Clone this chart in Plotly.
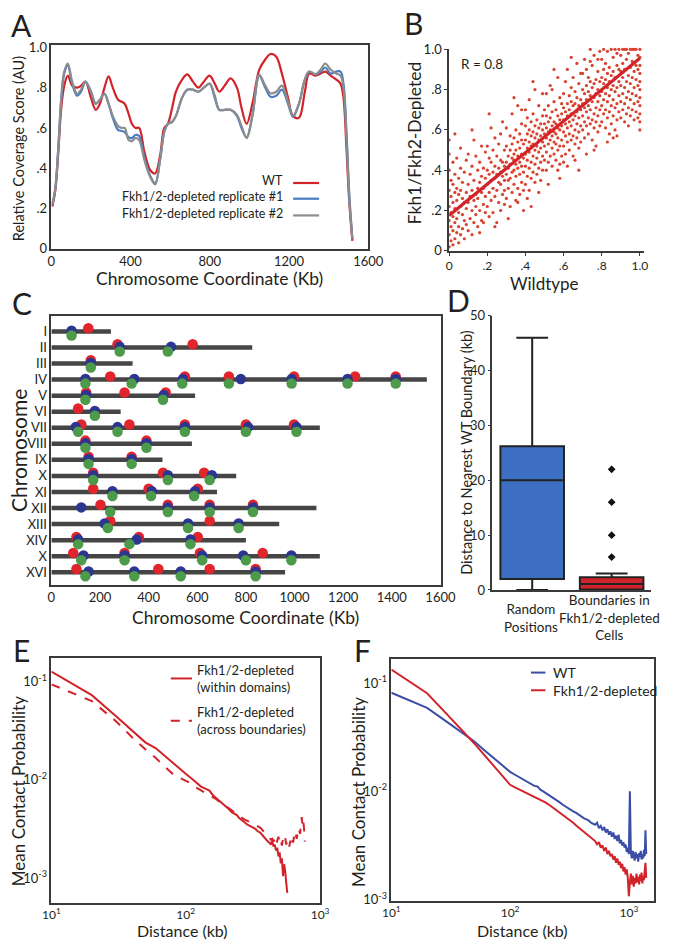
import plotly.graph_objects as go

W, H = 677, 946
FONT = "Lato, 'Open Sans', sans-serif"
INK = "#231f20"
AXC = "#3a3a3a"

# ---------------- Panel A: coverage score along chromosome ----------------
a_kb = [5, 20, 35, 50, 65, 83, 105, 130, 150, 172, 200, 224, 245, 268, 289, 310, 337, 355, 370, 390,
        407, 425, 443, 470, 500, 524, 550, 570, 588, 610, 629, 660, 686, 715, 742, 770, 799, 825, 848, 875,
        905, 937, 960, 986, 1015, 1050, 1080, 1107, 1135, 1164, 1195, 1220, 1250, 1280, 1302, 1334, 1360,
        1383, 1410, 1439, 1460, 1475, 1490, 1505, 1520]
a_wt = [0.21, 0.29, 0.48, 0.70, 0.81, 0.86, 0.81, 0.80, 0.81, 0.83, 0.75, 0.69, 0.72, 0.80, 0.856,
        0.80, 0.74, 0.73, 0.72, 0.67, 0.62, 0.60, 0.60, 0.48, 0.39, 0.374, 0.47, 0.60, 0.62, 0.70,
        0.78, 0.84, 0.866, 0.83, 0.80, 0.83, 0.86, 0.82, 0.78, 0.81, 0.846, 0.80, 0.70, 0.62, 0.72,
        0.89, 0.94, 0.967, 0.955, 0.87, 0.75, 0.66, 0.65, 0.78, 0.87, 0.86, 0.87, 0.88, 0.86, 0.84,
        0.82, 0.75, 0.50, 0.22, 0.04]
a_rep1 = [0.22, 0.30, 0.50, 0.74, 0.87, 0.91, 0.82, 0.76, 0.78, 0.83, 0.78, 0.72, 0.74, 0.77, 0.72,
          0.65, 0.59, 0.585, 0.58, 0.555, 0.55, 0.565, 0.56, 0.45, 0.36, 0.325, 0.45, 0.58, 0.62, 0.63,
          0.66, 0.75, 0.79, 0.79, 0.78, 0.80, 0.82, 0.75, 0.69, 0.69, 0.69, 0.66, 0.60, 0.553, 0.66,
          0.86, 0.80, 0.755, 0.76, 0.79, 0.72, 0.655, 0.72, 0.84, 0.88, 0.866, 0.88, 0.90, 0.87, 0.88,
          0.88, 0.82, 0.58, 0.26, 0.05]
a_rep2 = [0.22, 0.30, 0.50, 0.75, 0.88, 0.92, 0.83, 0.77, 0.79, 0.83, 0.78, 0.72, 0.74, 0.77, 0.72,
          0.66, 0.61, 0.60, 0.60, 0.54, 0.535, 0.55, 0.54, 0.44, 0.355, 0.32, 0.45, 0.58, 0.62, 0.63,
          0.66, 0.75, 0.79, 0.79, 0.78, 0.80, 0.82, 0.76, 0.69, 0.69, 0.69, 0.665, 0.61, 0.55, 0.66,
          0.865, 0.81, 0.772, 0.78, 0.81, 0.73, 0.66, 0.72, 0.84, 0.88, 0.866, 0.89, 0.92, 0.89, 0.87,
          0.86, 0.80, 0.56, 0.24, 0.05]
a_xticks = [0, 400, 800, 1200, 1600]
a_yticks = [0, 0.2, 0.4, 0.6, 0.8, 1.0]
a_ytext = ["0", ".2", ".4", ".6", ".8", "1.0"]

# ---------------- Panel B: scatter (values in %, wildtype, depleted) ----------------
b_points = [
 (0,2),(0,8),(0,15),(0,22),(0,30),(0,40),(0,48),(0,55),(1,5),(1,12),(1,19),(1,27),(1,35),(2,3),(2,10),
 (2,17),(2,24),(2,33),(2,44),(3,6),(3,14),(3,21),(3,29),(3,38),(3,58),(4,9),(4,16),(4,25),(4,31),(4,46),
 (5,4),(5,12),(5,19),(5,28),(5,36),(6,8),(6,22),(6,30),(6,41),(6,51),(7,11),(7,18),(7,26),(7,34),(8,6),
 (8,15),(8,24),(8,39),(9,13),(9,21),(9,29),(9,45),
 (10,10),(10,24),(10,33),(10,48),(11,16),(11,27),(11,38),(12,8),(12,20),(12,30),(12,42),(13,14),(13,25),
 (13,35),(13,55),(14,18),(14,28),(14,22),(14,47),(15,12),(15,31),(15,26),(15,40),(16,20),(16,34),(16,44),
 (17,15),(17,29),(17,37),(17,52),(18,23),(18,31),(18,41),(19,19),(19,27),(19,36),(19,49),(12,60),(16,9),(18,14),
 (20,22),(20,33),(20,40),(20,52),(21,17),(21,29),(21,38),(21,46),(22,25),(22,35),(22,44),(22,61),(23,19),
 (23,31),(23,39),(23,50),(24,27),(24,36),(24,42),(24,56),(25,14),(25,30),(25,38),(25,47),(26,24),(26,34),
 (26,41),(26,53),(27,20),(27,33),(27,39),(27,45),(28,28),(28,37),(28,44),(28,64),(29,23),(29,35),(29,42),
 (29,50),(21,68),(24,12),(27,58),(29,30),
 (30,26),(30,38),(30,44),(30,52),(30,61),(31,31),(31,41),(31,47),(31,35),(32,22),(32,36),(32,43),(32,50),
 (32,57),(33,29),(33,39),(33,46),(33,53),(33,68),(34,33),(34,40),(34,45),(34,48),(34,56),(35,25),(35,37),
 (35,43),(35,50),(35,60),(36,31),(36,41),(36,47),(36,54),(36,72),(37,28),(37,38),(37,44),(37,51),(37,58),
 (38,34),(38,42),(38,48),(38,55),(38,63),(39,30),(39,39),(39,46),(39,53),(39,20),(31,16),(34,76),(36,24),(38,70),
 (40,33),(40,42),(40,48),(40,55),(40,62),(40,70),(41,37),(41,45),(41,51),(41,58),(41,66),(42,30),(42,41),
 (42,49),(42,54),(42,60),(42,75),(43,36),(43,44),(43,52),(43,57),(43,64),(44,39),(44,47),(44,53),(44,59),
 (44,68),(45,34),(45,43),(45,50),(45,56),(45,62),(45,80),(46,38),(46,46),(46,52),(46,58),(46,65),(47,41),
 (47,49),(47,55),(47,61),(47,72),(48,35),(48,44),(48,51),(48,57),(48,63),(49,40),(49,47),(49,54),(49,60),
 (49,67),(41,26),(44,84),(47,29),(49,78),(43,22),
 (50,45),(50,52),(50,58),(50,63),(50,70),(51,40),(51,49),(51,56),(51,61),(51,67),(51,78),(52,44),(52,53),
 (52,59),(52,64),(52,72),(53,47),(53,55),(53,60),(53,66),(53,82),(54,42),(54,51),(54,57),(54,62),(54,69),
 (55,48),(55,54),(55,59),(55,64),(55,74),(56,45),(56,53),(56,58),(56,63),(56,70),(57,50),(57,56),(57,61),
 (57,67),(57,86),(58,43),(58,52),(58,60),(58,65),(58,76),(59,47),(59,55),(59,62),(59,68),(59,73),(52,33),
 (55,90),(58,36),(54,80),(57,40),
 (60,52),(60,59),(60,65),(60,71),(60,78),(61,48),(61,57),(61,63),(61,69),(61,84),(62,54),(62,61),(62,67),
 (62,73),(62,90),(63,50),(63,58),(63,64),(63,70),(63,77),(64,55),(64,62),(64,68),(64,74),(64,81),(65,47),
 (65,57),(65,65),(65,72),(65,86),(66,53),(66,60),(66,67),(66,73),(66,79),(67,56),(67,63),(67,69),(67,76),
 (67,93),(68,51),(68,59),(68,66),(68,72),(68,83),(69,54),(69,62),(69,70),(69,75),(69,88),(62,42),(66,45),
 (64,96),(68,40),(60,44),
 (70,60),(70,67),(70,73),(70,80),(70,88),(71,56),(71,64),(71,71),(71,78),(71,95),(72,62),(72,69),(72,75),
 (72,82),(72,90),(73,58),(73,66),(73,72),(73,79),(73,86),(74,63),(74,70),(74,77),(74,84),(74,100),(75,55),
 (75,65),(75,74),(75,81),(75,92),(76,61),(76,68),(76,76),(76,83),(76,97),(77,64),(77,71),(77,78),(77,85),
 (77,52),(78,59),(78,67),(78,74),(78,80),(78,89),(79,62),(79,70),(79,77),(79,84),(79,99),(72,48),(76,50),
 (74,94),(78,95),
 (80,64),(80,72),(80,79),(80,86),(80,95),(81,68),(81,75),(81,83),(81,90),(81,100),(82,61),(82,70),(82,78),
 (82,85),(82,93),(83,66),(83,74),(83,81),(83,88),(83,99),(84,58),(84,69),(84,77),(84,84),(84,91),(85,63),
 (85,72),(85,80),(85,87),(85,100),(86,67),(86,75),(86,82),(86,89),(86,96),(87,60),(87,71),(87,79),(87,86),
 (87,100),(88,65),(88,73),(88,81),(88,92),(88,98),(89,69),(89,77),(89,84),(89,90),(89,100),(83,54),(86,56),(88,57),
 (90,66),(90,74),(90,82),(90,89),(90,97),(91,70),(91,78),(91,86),(91,93),(91,100),(92,64),(92,73),(92,81),
 (92,90),(92,100),(93,68),(93,76),(93,84),(93,95),(93,100),(94,62),(94,71),(94,79),(94,87),(94,98),(95,67),
 (95,75),(95,83),(95,91),(95,100),(96,70),(96,78),(96,86),(96,94),(96,100),(97,65),(97,73),(97,81),(97,89),
 (97,100),(98,69),(98,77),(98,85),(98,92),(98,100),(99,66),(99,74),(99,82),(99,90),(99,97),(100,60),
 (100,64),(100,68),(100,72),(100,76),(100,80),(100,84),(100,88),(100,92),(100,96),(100,100),
]
b_wildtype = [p[0] / 100 for p in b_points]
b_depleted = [p[1] / 100 for p in b_points]
b_fit_x = [0.0, 1.0]
b_fit_y = [0.175, 0.955]
b_r_text = "R = 0.8"

# ---------------- Panel C: boundary positions per chromosome (kb) ----------------
chrom_names = ["I", "II", "III", "IV", "V", "VI", "VII", "VIII", "IX", "X", "XI", "XII", "XIII", "XIV", "X", "XVI"]
chrom_len_kb = [245, 826, 334, 1544, 591, 285, 1104, 578, 457, 760, 681, 1090, 937, 800, 1104, 961]
red_kb = [[152], [272, 581], [162], [242, 549, 730, 998, 1249, 1416], [143, 301, 470], [110],
          [123, 321, 549, 800, 998], [140, 391], [153, 330], [172, 459, 628], [172, 400, 602],
          [202, 479, 651, 829], [242, 651], [103, 360, 602], [90, 301, 611, 869], [103, 440, 651, 840]]
blue_kb = [[83], [281, 492], [162], [140, 341, 541, 779, 988, 1218, 1416], [143, 462], [179],
           [100, 272, 549, 809, 1008], [140, 391], [153, 330], [172, 479, 660], [251, 413, 591],
           [123, 479, 651, 829], [219, 562, 770], [110, 351, 572], [132, 301, 620, 789, 987], [153, 341, 532, 840]]
green_kb = [[83], [281, 479], [162], [140, 330, 538, 730, 988, 1218, 1416], [140, 459], [179],
            [110, 272, 549, 800, 1008], [140, 391], [153, 330], [172, 479, 651], [251, 410, 587],
            [242, 479, 651, 829], [232, 562, 770], [110, 321, 572], [123, 301, 620, 800, 987], [140, 341, 532, 840]]
c_xticks = [0, 200, 400, 600, 800, 1000, 1200, 1400, 1600]

# ---------------- Panel D: box plot summary (kb) ----------------
d_categories = [0, 1]
d_q1 = [2.0, 0.1]
d_median = [20.0, 1.1]
d_q3 = [26.2, 2.3]
d_lower = [0.0, 0.0]
d_upper = [46.0, 3.0]
d_outliers = [6, 10, 16, 22]
d_yticks = [0, 10, 20, 30, 40, 50]

# ---------------- Panel E: contact probability (log10) ----------------
e_within_kb = [10, 20, 30, 40, 50, 60, 70, 80, 90, 100, 110, 120, 130, 140, 150, 160, 170, 180, 190, 200,
               210, 220, 230, 240, 250, 260, 270, 280, 290, 300, 310, 320, 330, 340, 350, 360, 370, 380, 390, 400,
               410, 420, 430, 440, 450, 460, 470, 480, 490, 500, 510, 520, 530, 540, 550, 560, 570]
e_within_log10p = [-0.90, -1.14, -1.35, -1.505, -1.62, -1.68, -1.76, -1.83, -1.89, -1.94,
                   -1.985, -2.03, -2.07, -2.09, -2.11, -2.16, -2.19, -2.22, -2.25, -2.27,
                   -2.30, -2.33, -2.35, -2.36, -2.39, -2.41, -2.42, -2.44, -2.46, -2.47,
                   -2.48, -2.49, -2.50, -2.52, -2.53, -2.54, -2.56, -2.58, -2.59, -2.61,
                   -2.63, -2.64, -2.66, -2.62, -2.68, -2.66, -2.72, -2.69, -2.78, -2.74,
                   -2.85, -2.80, -2.98, -2.86, -2.93, -3.05, -3.15]
e_across_kb = [10, 20, 30, 40, 50, 60, 70, 80, 90, 100, 110, 120, 130, 140, 150, 160, 170, 180, 190, 200,
               210, 220, 230, 240, 250, 260, 270, 280, 290, 300, 310, 320, 330, 340, 350, 360, 370, 380, 390, 400,
               410, 420, 430, 440, 450, 460, 470, 480, 490, 500, 510, 520, 530, 540, 550, 560, 570, 580, 590, 600,
               610, 620, 630, 640, 650, 660, 670, 680, 690, 700, 710, 720, 730, 740, 750, 760, 770]
e_across_log10p = [-1.03, -1.20, -1.40, -1.57, -1.69, -1.78, -1.87, -1.94, -1.98, -2.01,
                   -2.04, -2.08, -2.11, -2.14, -2.16, -2.18, -2.20, -2.23, -2.25, -2.27,
                   -2.29, -2.31, -2.33, -2.35, -2.37, -2.38, -2.40, -2.41, -2.42, -2.43,
                   -2.44, -2.45, -2.46, -2.47, -2.48, -2.49, -2.51, -2.53, -2.54, -2.56,
                   -2.58, -2.59, -2.61, -2.60, -2.63, -2.60, -2.66, -2.62, -2.58, -2.64,
                   -2.61, -2.67, -2.60, -2.63, -2.59, -2.66, -2.61, -2.64, -2.68, -2.62,
                   -2.66, -2.60, -2.64, -2.58, -2.62, -2.56, -2.60, -2.55, -2.58, -2.52,
                   -2.55, -2.46, -2.38, -2.47, -2.42, -2.50, -2.63]

# ---------------- Panel F: contact probability (log10) ----------------
f_kb = [10, 20, 30, 40, 50, 60, 70, 80, 90, 100, 110, 120, 130, 140, 150, 160, 170, 180, 190, 200,
        220, 240, 260, 280, 300, 320, 340, 360, 380, 400, 420, 440, 460, 480, 500,
        520, 540, 560, 580, 600, 620, 640, 660, 680, 700, 720, 740, 760, 780, 800, 820, 840, 860, 880, 900,
        920, 940, 960, 980, 1000, 1020, 1040, 1060, 1080, 1100, 1120, 1140, 1160, 1180, 1200, 1220, 1240,
        1260, 1280, 1300, 1320, 1340, 1360, 1380, 1400]
f_wt_log10p = [-1.09, -1.23, -1.365, -1.46, -1.54, -1.615, -1.677, -1.73, -1.78, -1.82,
               -1.847, -1.871, -1.894, -1.915, -1.935, -1.95, -1.955, -1.985, -2.00, -2.015,
               -2.047, -2.076, -2.10, -2.127, -2.15, -2.169, -2.186, -2.20, -2.22, -2.235,
               -2.25, -2.26, -2.27, -2.29, -2.30,
               -2.31, -2.29, -2.34, -2.32, -2.36, -2.33, -2.38, -2.35, -2.40, -2.37,
               -2.42, -2.38, -2.44, -2.41, -2.46, -2.40, -2.48, -2.45, -2.50, -2.47,
               -2.52, -2.49, -2.56, -2.52, -2.58, -2.00, -2.57, -2.62, -2.55, -2.60,
               -2.64, -2.56, -2.62, -2.58, -2.65, -2.57, -2.61, -2.55, -2.63, -2.58,
               -2.62, -2.54, -2.60, -2.36, -2.58]
f_dep_log10p = [-0.876, -1.094, -1.298, -1.443, -1.558, -1.658, -1.743, -1.816, -1.88, -1.94,
                -1.963, -1.983, -2.003, -2.02, -2.037, -2.052, -2.066, -2.08, -2.093, -2.105,
                -2.136, -2.166, -2.192, -2.217, -2.24, -2.266, -2.291, -2.315, -2.337, -2.358,
                -2.378, -2.397, -2.416, -2.433, -2.45,
                -2.46, -2.49, -2.47, -2.52, -2.50, -2.55, -2.52, -2.58, -2.55, -2.60,
                -2.58, -2.63, -2.60, -2.66, -2.62, -2.68, -2.65, -2.71, -2.67, -2.74,
                -2.70, -2.77, -2.72, -2.80, -2.97, -2.84, -2.76, -2.86, -2.78, -2.88,
                -2.80, -2.85, -2.76, -2.84, -2.79, -2.86, -2.77, -2.83, -2.75, -2.85,
                -2.78, -2.82, -2.72, -2.66, -2.80]

log_xticks = [10, 100, 1000]
log_xtext = ["10<sup>1</sup>", "10<sup>2</sup>", "10<sup>3</sup>"]
log_yticks = [0.1, 0.01, 0.001]
log_ytext = ["10<sup>-1</sup>", "10<sup>-2</sup>", "10<sup>-3</sup>"]


def px(x):
    return x / W


def py(y):
    return 1 - y / H


def dx(a, b):
    return [px(a), px(b)]


def dy(top, bottom):
    return [py(bottom), py(top)]


RED = "#d2232a"
BLUE_A = "#4a7cc0"
GRAY = "#8c8c8c"

fig = go.Figure()

# Panel A
for vals, col in [(a_wt, RED), (a_rep1, BLUE_A), (a_rep2, GRAY)]:
    fig.add_trace(go.Scatter(x=a_kb, y=vals, mode="lines", xaxis="x", yaxis="y",
                             line=dict(color=col, width=2.2, shape="spline", smoothing=1.0)))

# Panel B
fig.add_trace(go.Scatter(x=b_wildtype, y=b_depleted, mode="markers", xaxis="x2", yaxis="y2",
                         marker=dict(color="#d8432f", size=3.2, line=dict(width=0)), cliponaxis=False))
fig.add_trace(go.Scatter(x=b_fit_x, y=b_fit_y, mode="lines", xaxis="x2", yaxis="y2",
                         line=dict(color="#d2232a", width=3.2)))

# Panel C
cx, cy = [], []
for i, L in enumerate(chrom_len_kb):
    cx += [0, L, None]
    cy += [i, i, None]
fig.add_trace(go.Scatter(x=cx, y=cy, mode="lines", xaxis="x3", yaxis="y3",
                         line=dict(color="#454545", width=4.5)))
for lists, col, off in [(red_kb, "#e0262c", -0.2), (blue_kb, "#2c3590", -0.04), (green_kb, "#4c9a4a", 0.25)]:
    xs, ys = [], []
    for i, row in enumerate(lists):
        for v in row:
            xs.append(v)
            ys.append(i + off)
    fig.add_trace(go.Scatter(x=xs, y=ys, mode="markers", xaxis="x3", yaxis="y3",
                             marker=dict(color=col, size=10.5, line=dict(width=0))))

# Panel D
for i, fill in enumerate(["#3d70c2", "#d0232b"]):
    fig.add_trace(go.Box(x=[d_categories[i]], q1=[d_q1[i]], median=[d_median[i]], q3=[d_q3[i]],
                         lowerfence=[d_lower[i]], upperfence=[d_upper[i]], xaxis="x4", yaxis="y4",
                         fillcolor=fill, line=dict(color="#222222", width=2), width=0.8,
                         whiskerwidth=0.5, boxpoints=False))
fig.add_trace(go.Scatter(x=[1] * len(d_outliers), y=d_outliers, mode="markers", xaxis="x4", yaxis="y4",
                         marker=dict(symbol="diamond", color="#111111", size=6)))

# Panel E
fig.add_trace(go.Scatter(x=e_within_kb, y=[10 ** v for v in e_within_log10p], mode="lines",
                         xaxis="x5", yaxis="y5", line=dict(color=RED, width=2)))
fig.add_trace(go.Scatter(x=e_across_kb, y=[10 ** v for v in e_across_log10p], mode="lines",
                         xaxis="x5", yaxis="y5", line=dict(color=RED, width=2, dash="dash")))

# Panel F
fig.add_trace(go.Scatter(x=f_kb, y=[10 ** v for v in f_wt_log10p], mode="lines",
                         xaxis="x6", yaxis="y6", line=dict(color="#3b4da6", width=2)))
fig.add_trace(go.Scatter(x=f_kb, y=[10 ** v for v in f_dep_log10p], mode="lines",
                         xaxis="x6", yaxis="y6", line=dict(color=RED, width=2)))

tickfont = dict(family=FONT, size=13, color=INK)
smallfont = dict(family=FONT, size=12, color=INK)
base = dict(showgrid=False, zeroline=False, showline=True, linecolor=AXC, linewidth=1.5,
            tickfont=tickfont, ticks="")

fig.update_layout(
    width=W, height=H, margin=dict(l=0, r=0, t=0, b=0), showlegend=False,
    paper_bgcolor="white", plot_bgcolor="white", font=dict(family=FONT, color=INK),
    xaxis=dict(base, domain=dx(44, 373), range=[0, 1600], anchor="y", mirror=True,
               tickvals=a_xticks),
    yaxis=dict(base, domain=dy(38, 245), range=[0, 1.01], anchor="x", mirror=True,
               tickvals=a_yticks, ticktext=a_ytext),
    xaxis2=dict(base, domain=dx(457, 659), range=[0, 1.02], anchor="y2", tickfont=smallfont,
                tickvals=a_yticks, ticktext=a_ytext, ticks="outside", ticklen=3, tickcolor=AXC),
    yaxis2=dict(base, domain=dy(42, 247), range=[0, 1.0], anchor="x2",
                tickvals=a_yticks, ticktext=a_ytext, ticks="outside", ticklen=3, tickcolor=AXC),
    xaxis3=dict(base, domain=dx(44, 449), range=[0, 1604], anchor="y3", mirror=True,
                tickvals=c_xticks),
    yaxis3=dict(base, domain=dy(313, 587), range=[15.8, -0.98], anchor="x3", mirror=True,
                tickvals=list(range(len(chrom_names))), ticktext=chrom_names,
                tickfont=dict(family=FONT, size=13, color=INK)),
    xaxis4=dict(base, domain=dx(502, 667), range=[-0.5, 1.5], anchor="y4", showticklabels=False),
    yaxis4=dict(base, domain=dy(313, 592), range=[0, 50], anchor="x4", tickvals=d_yticks,
                ticks="outside", ticklen=3, tickcolor=AXC),
    xaxis5=dict(base, type="log", domain=dx(44, 323), range=[1, 3], anchor="y5", mirror=True,
                tickvals=log_xticks, ticktext=log_xtext, tickfont=smallfont),
    yaxis5=dict(base, type="log", domain=dy(661, 910), range=[-3.25, -0.76], anchor="x5", mirror=True,
                tickvals=log_yticks, ticktext=log_ytext),
    xaxis6=dict(base, type="log", domain=dx(397, 670), range=[1, 3.214], anchor="y6", mirror=True,
                tickvals=log_xticks, ticktext=log_xtext, tickfont=smallfont),
    yaxis6=dict(base, type="log", domain=dy(662, 908), range=[-3.01, -0.776], anchor="x6", mirror=True,
                tickvals=log_yticks, ticktext=log_ytext),
)

ann = []


def text(x, y, s, size, angle=0, xanchor="center", yanchor="middle", align="center"):
    ann.append(dict(x=px(x), y=py(y), xref="paper", yref="paper", text=s, showarrow=False,
                    textangle=angle, xanchor=xanchor, yanchor=yanchor, align=align,
                    font=dict(family=FONT, size=size, color=INK)))


# panel letters
for lab, x, y in [("A", 13, 17), ("B", 420, 15), ("C", 13, 300), ("D", 467, 297), ("E", 13, 653), ("F", 367, 653)]:
    text(x, y, lab, 30)

# axis titles
text(208, 275, "Chromosome Coordinate (Kb)", 17.5)
text(10, 143, "Relative Coverage Score (AU)", 14.5, angle=-90)
text(421, 137, "Fkh1/Fkh2-Depleted", 17.5, angle=-90)
text(556, 280, "Wildtype", 17)
text(491, 57, b_r_text, 13.5)
text(10, 450, "Chromosome", 21, angle=-90)
text(246, 620, "Chromosome Coordinate (Kb)", 17.5)
text(475, 452, "Distance to Nearest WT Boundary (kb)", 14.5, angle=-90)
text(542, 621, "Random<br>Positions", 13.5)
text(624, 620, "Boundaries in<br>Fkh1/2-depleted<br>Cells", 13.5)
text(10, 797, "Mean Contact Probability", 17, angle=-90)
text(180, 938, "Distance (kb)", 16)
text(363, 798, "Mean Contact Probability", 17, angle=-90)
text(533, 938, "Distance (kb)", 16)

# legends
text(287, 175, "WT", 12.5, xanchor="right")
text(287, 192, "Fkh1/2-depleted replicate #1", 12.5, xanchor="right")
text(287, 209, "Fkh1/2-depleted replicate #2", 12.5, xanchor="right")
text(193, 682, "Fkh1/2-depleted<br>(within domains)", 13, xanchor="left", align="left")
text(193, 725, "Fkh1/2-depleted<br>(across boundaries)", 13, xanchor="left", align="left")
text(563, 676, "WT", 14, xanchor="left")
text(563, 694, "Fkh1/2-depleted", 14, xanchor="left")

shapes = []


def seg(x0, x1, y, col, dash="solid", w=2.2):
    shapes.append(dict(type="line", xref="paper", yref="paper", x0=px(x0), x1=px(x1), y0=py(y), y1=py(y),
                       line=dict(color=col, width=w, dash=dash)))


seg(295, 322, 178, RED)
seg(295, 322, 194, BLUE_A)
seg(295, 322, 211, GRAY)
seg(168, 190, 682, RED, w=2)
seg(168, 190, 725, RED, dash="dash", w=2)
seg(542, 557, 676, "#3b4da6", w=2)
seg(542, 557, 694, RED, w=2)

fig.update_layout(annotations=ann, shapes=shapes)
fig.write_html("out.html", config={"displayModeBar": False},
               post_script="document.body.style.margin='0px';")
